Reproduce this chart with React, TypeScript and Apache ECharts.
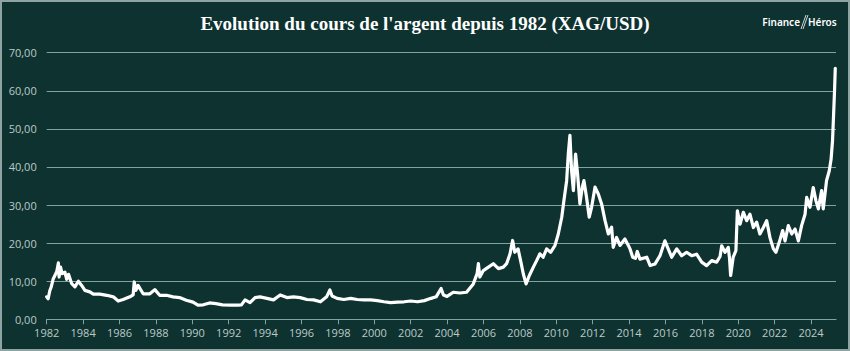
import React, { useEffect, useRef } from "react";
import * as echarts from "echarts";

const TITLE = "Evolution du cours de l'argent depuis 1982 (XAG/USD)";
const yearTicks = [1982, 1984, 1986, 1988, 1990, 1992, 1994, 1996, 1998, 2000, 2002, 2004, 2006, 2008, 2010, 2012, 2014, 2016, 2018, 2020, 2022, 2024];

const dates = [
  1982.0, 1982.08, 1982.17, 1982.25, 1982.35, 1982.45, 1982.55, 1982.64, 1982.68, 1982.76, 1982.85,
  1983.0, 1983.1, 1983.2, 1983.37, 1983.55, 1983.74, 1983.92, 1984.1, 1984.37, 1984.56, 1984.92,
  1985.3, 1985.66, 1985.93, 1986.2, 1986.57, 1986.75, 1986.81, 1986.9, 1987.02, 1987.3, 1987.67,
  1987.94, 1988.21, 1988.58, 1988.94, 1989.3, 1989.67, 1990.04, 1990.31, 1990.6, 1990.95, 1991.3,
  1991.66, 1992.15, 1992.5, 1992.7, 1992.9, 1993.17, 1993.45, 1993.72, 1994.1, 1994.46, 1994.83,
  1995.2, 1995.56, 1995.93, 1996.3, 1996.67, 1997.04, 1997.38, 1997.56, 1997.68, 1997.96, 1998.33,
  1998.7, 1999.06, 1999.43, 1999.8, 2000.17, 2000.53, 2000.9, 2001.27, 2001.64, 2002.0, 2002.38,
  2002.75, 2003.12, 2003.4, 2003.67, 2003.8, 2004.0, 2004.34, 2004.7, 2005.07, 2005.44, 2005.65,
  2005.72, 2005.8, 2005.99, 2006.27, 2006.54, 2006.82, 2007.09, 2007.27, 2007.46, 2007.6, 2007.72,
  2007.9, 2008.04, 2008.19, 2008.34, 2008.52, 2008.74, 2008.92, 2009.1, 2009.28, 2009.47, 2009.69,
  2009.93, 2010.11, 2010.3, 2010.42, 2010.57, 2010.66, 2010.75, 2010.84, 2010.94, 2011.06, 2011.17,
  2011.3, 2011.43, 2011.52, 2011.66, 2011.81, 2011.94, 2012.13, 2012.31, 2012.49, 2012.68, 2012.86,
  2013.04, 2013.13, 2013.31, 2013.5, 2013.77, 2013.96, 2014.05, 2014.2, 2014.35, 2014.45, 2014.6,
  2014.97, 2015.16, 2015.42, 2015.7, 2015.97, 2016.15, 2016.34, 2016.62, 2016.89, 2017.16, 2017.44,
  2017.71, 2017.99, 2018.26, 2018.54, 2018.81, 2019.0, 2019.09, 2019.27, 2019.45, 2019.52, 2019.58,
  2019.72, 2019.87, 2019.95, 2020.1, 2020.28, 2020.46, 2020.64, 2020.83, 2021.01, 2021.19, 2021.38,
  2021.56, 2021.74, 2021.93, 2022.07, 2022.25, 2022.44, 2022.57, 2022.75, 2022.94, 2023.12, 2023.3,
  2023.48, 2023.67, 2023.76, 2023.94, 2024.12, 2024.27, 2024.4, 2024.58, 2024.67, 2024.85, 2025.0,
  2025.1, 2025.18, 2025.24, 2025.29, 2025.33,
];

const prices = [
  5.9, 5.4, 7.5, 8.5, 10.5, 11.5, 12.5, 14.8, 11.1, 13.7, 12.0,
  12.4, 10.5, 11.8, 9.4, 8.5, 10.0, 8.9, 7.6, 7.2, 6.6, 6.6,
  6.3, 5.9, 4.8, 5.2, 5.9, 6.4, 9.8, 7.6, 8.9, 6.7, 6.7,
  7.8, 6.3, 6.3, 5.9, 5.7, 5.0, 4.5, 3.7, 3.8, 4.3, 4.1,
  3.8, 3.7, 3.7, 3.8, 5.1, 4.4, 5.7, 5.9, 5.5, 5.1, 6.4,
  5.7, 5.9, 5.7, 5.2, 5.1, 4.6, 5.9, 7.7, 6.1, 5.5, 5.2,
  5.5, 5.2, 5.1, 5.1, 4.9, 4.6, 4.4, 4.5, 4.6, 4.8, 4.6,
  4.9, 5.5, 5.9, 8.1, 6.4, 6.0, 7.1, 6.9, 7.1, 9.3, 12.0,
  14.6, 11.1, 12.8, 13.7, 14.6, 13.3, 13.7, 14.6, 17.2, 20.7, 17.6,
  18.5, 15.4, 11.9, 9.3, 11.5, 13.7, 15.4, 17.2, 16.3, 18.5, 17.6,
  19.4, 22.4, 26.8, 31.2, 36.4, 43.4, 48.3, 39.1, 33.8, 43.4, 38.2,
  30.3, 34.7, 36.4, 32.1, 26.8, 29.4, 34.7, 32.9, 30.3, 25.9, 22.4,
  24.2, 18.9, 21.5, 19.4, 21.1, 19.4, 18.5, 16.3, 16.0, 17.8, 15.8,
  16.3, 14.1, 14.5, 16.7, 20.6, 18.5, 16.3, 18.5, 16.7, 17.6, 16.7,
  17.1, 15.0, 14.1, 15.4, 15.0, 16.5, 19.3, 17.6, 18.9, 16.0, 11.5,
  16.3, 18.0, 28.5, 25.0, 28.1, 25.9, 27.6, 24.1, 25.5, 22.4, 24.1,
  25.9, 21.5, 18.5, 17.6, 20.2, 23.3, 20.6, 24.6, 22.4, 23.7, 20.6,
  24.6, 27.6, 32.0, 29.4, 34.6, 31.1, 29.0, 33.8, 29.0, 36.4, 39.0,
  42.0, 47.0, 54.0, 60.0, 65.9,
];

const BG = "#0e3230";
const GRID = "#7fa3a0";
const LABEL = "#bccac8";

export default function App() {
  const ref = useRef<HTMLDivElement>(null);
  useEffect(() => {
    document.body.style.margin = "0";
    if (!ref.current) return;
    const chart = echarts.init(ref.current, undefined, { renderer: "svg" });
    const data = dates.map((d, i) => [d, prices[i]]);
    chart.setOption({
      animation: false,
      backgroundColor: BG,
      title: {
        text: TITLE,
        left: "center",
        top: 9,
        textStyle: {
          fontFamily: "Liberation Serif",
          fontWeight: "bold",
          fontSize: 19,
          color: "#ffffff",
        },
      },
      graphic: [
        {
          type: "rect",
          shape: { x: 1, y: 1, width: 848, height: 349 },
          style: { fill: "none", stroke: "#8ea4a2", lineWidth: 2 },
          silent: true,
        },
        {
          type: "text",
          x: 800,
          y: 22,
          style: {
            text: "Finance",
            fill: "#ffffff",
            font: "600 10px 'Noto Sans'",
            textAlign: "right",
            textVerticalAlign: "middle",
          },
        },
        {
          type: "line",
          shape: { x1: 801, y1: 29, x2: 806, y2: 15 },
          style: { stroke: "#ffffff", lineWidth: 0.8 },
        },
        {
          type: "line",
          shape: { x1: 803, y1: 29, x2: 808, y2: 15 },
          style: { stroke: "#ffffff", lineWidth: 0.8 },
        },
        {
          type: "text",
          x: 808,
          y: 22,
          style: {
            text: "Héros",
            fill: "#ffffff",
            font: "600 10px 'Noto Sans'",
            textAlign: "left",
            textVerticalAlign: "middle",
          },
        },
      ],
      grid: { left: 46.7, right: 14, top: 52.7, bottom: 31.7 },
      xAxis: {
        type: "value",
        min: 1982,
        max: 2025.37,
        interval: 2,
        splitLine: { show: false },
        axisLine: { show: true, lineStyle: { color: GRID, width: 1.2 } },
        axisTick: {
          show: true,
          length: 5,
          customValues: yearTicks,
          lineStyle: { color: GRID, width: 1 },
        },
        axisLabel: {
          customValues: yearTicks,
          color: LABEL,
          fontFamily: "Open Sans",
          fontSize: 11,
          margin: 8,
          formatter: (v: number) => String(Math.round(v)),
        },
      },
      yAxis: {
        type: "value",
        min: 0,
        max: 70,
        interval: 10,
        axisLine: { show: false },
        axisTick: { show: false },
        splitLine: { show: true, lineStyle: { color: GRID, width: 1.2 } },
        axisLabel: {
          color: LABEL,
          fontFamily: "Open Sans",
          fontSize: 11,
          margin: 10,
          formatter: (v: number) => v.toFixed(2).replace(".", ","),
        },
      },
      series: [
        {
          type: "line",
          data,
          showSymbol: false,
          symbol: "none",
          lineStyle: { color: "#ffffff", width: 3.2, join: "round", cap: "round" },
          z: 5,
        },
      ],
    });
    return () => chart.dispose();
  }, []);
  return <div ref={ref} style={{ width: 850, height: 351 }} />;
}
